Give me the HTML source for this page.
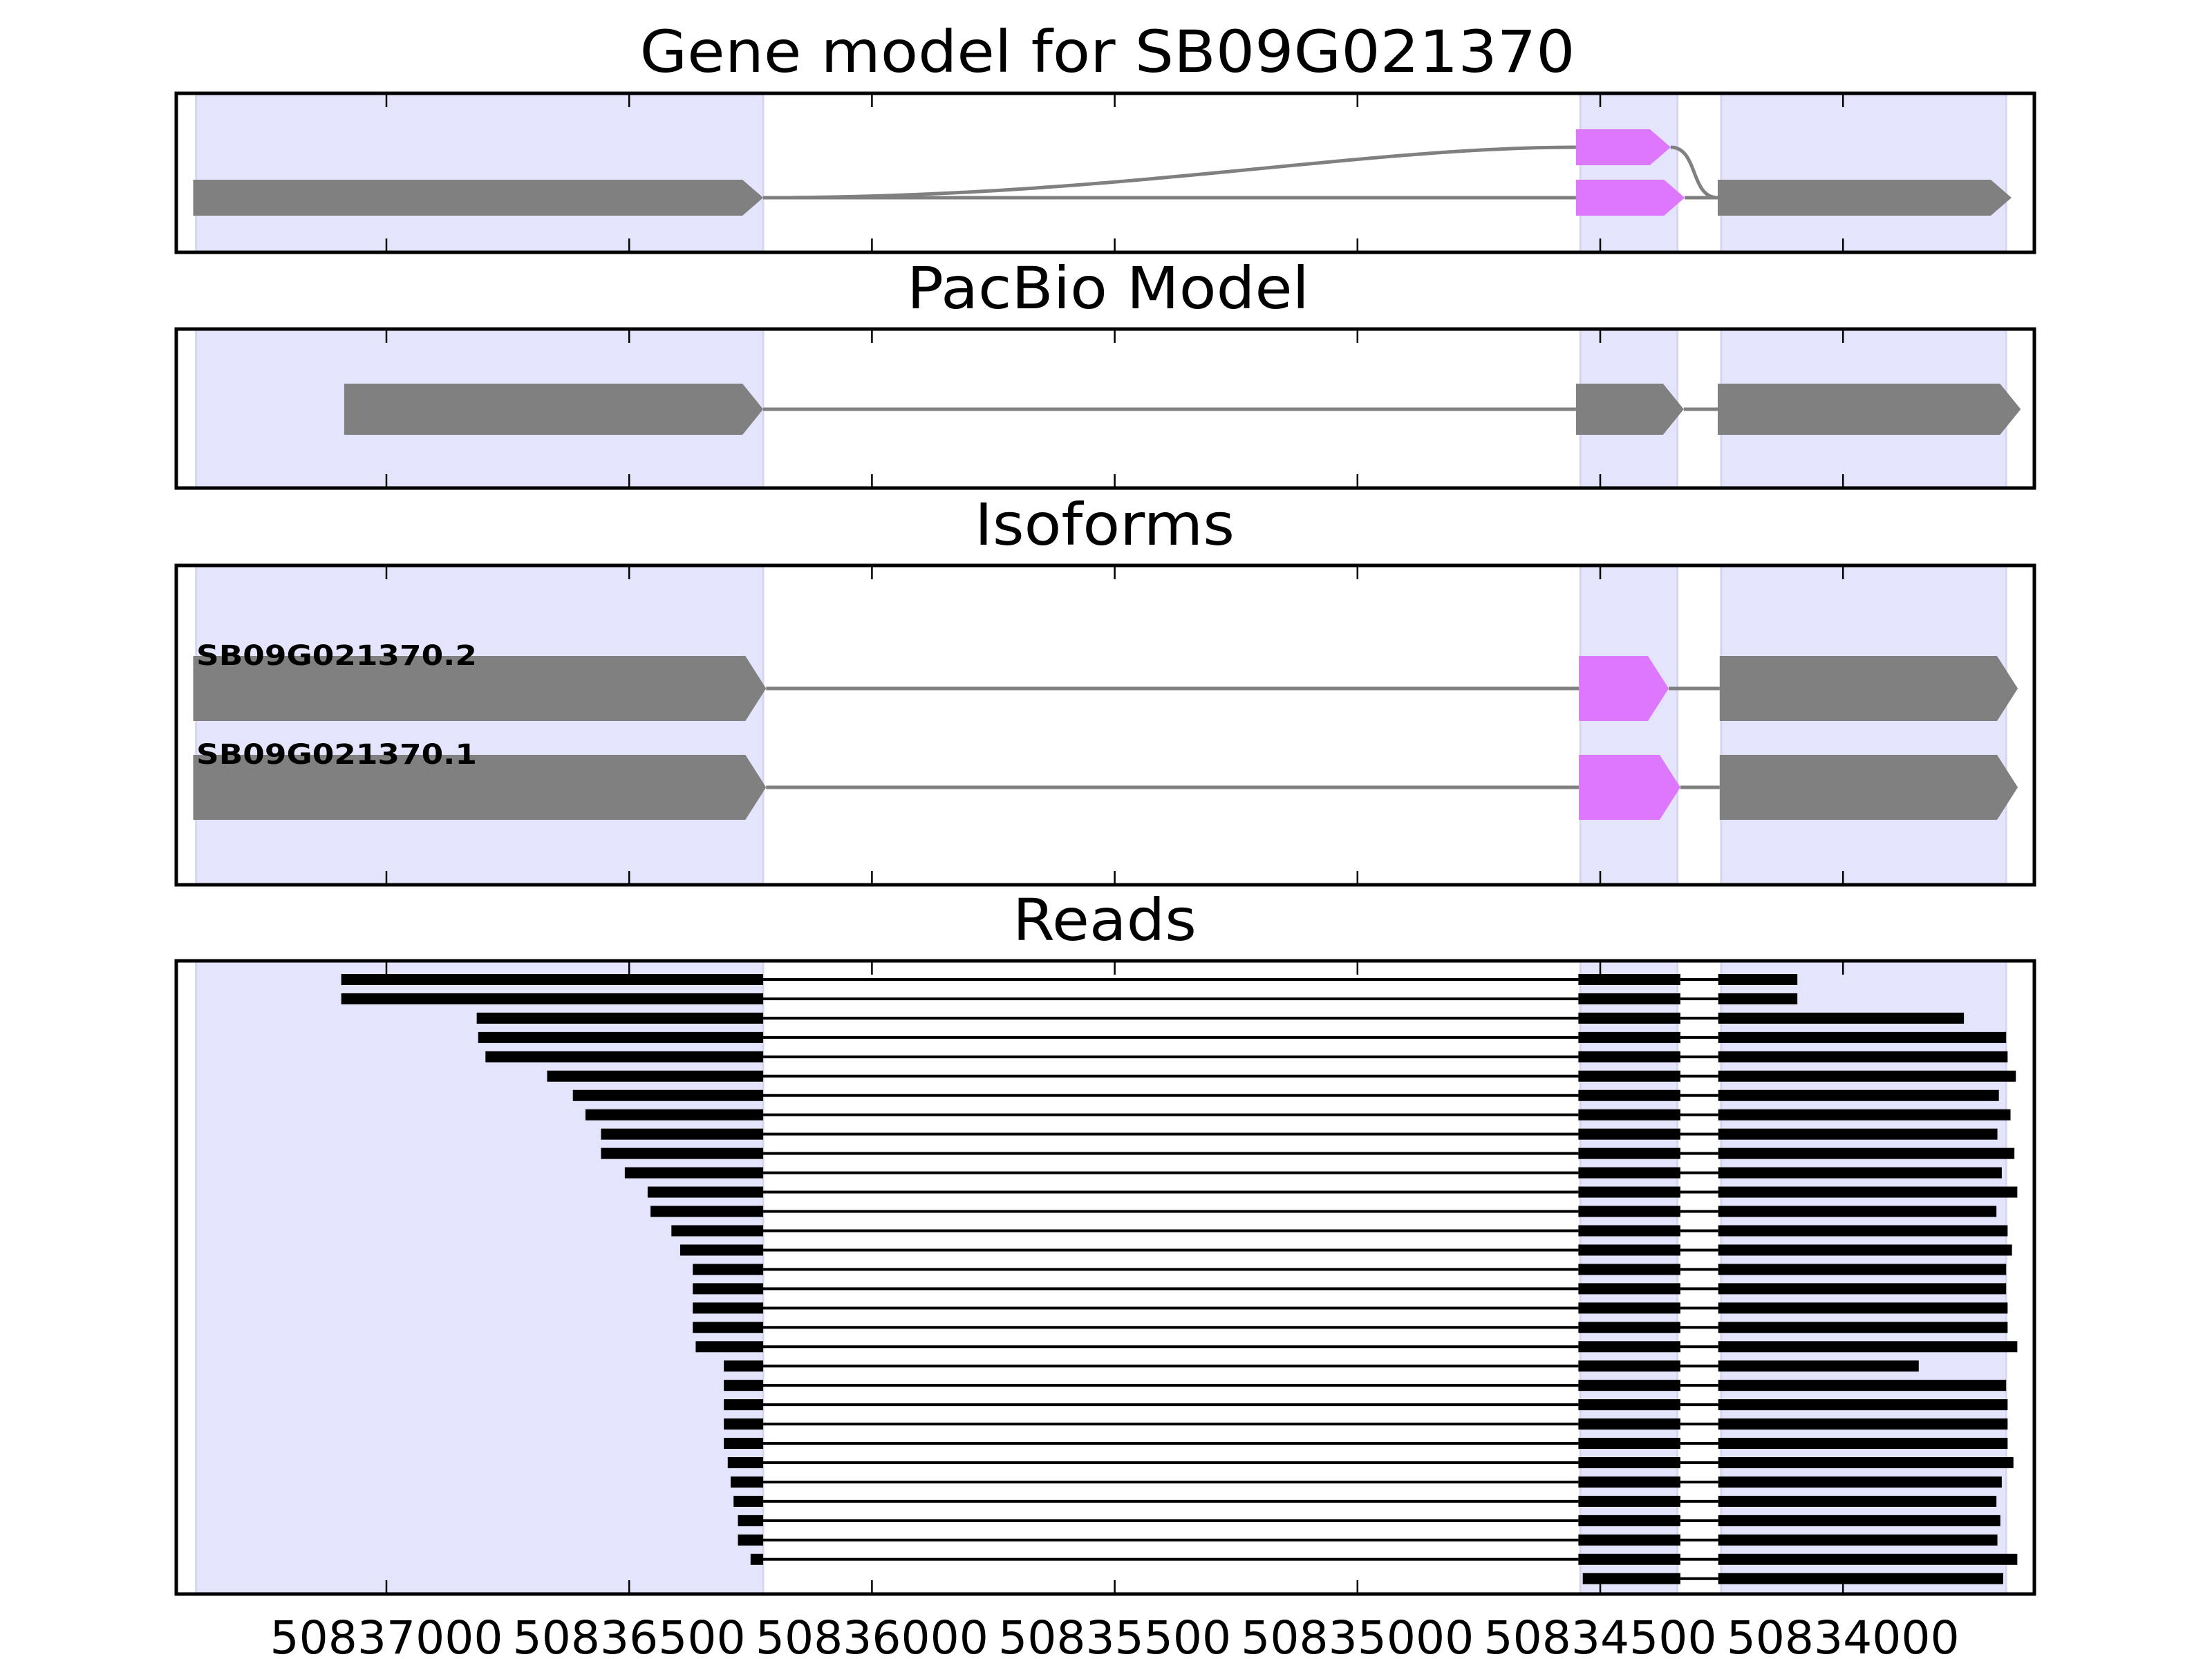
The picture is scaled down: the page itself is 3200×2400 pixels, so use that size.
<!DOCTYPE html>
<html><head><meta charset="utf-8"><style>html,body{margin:0;padding:0;background:#fff}svg{display:block}</style></head>
<body>
<svg id="fig" xmlns="http://www.w3.org/2000/svg" width="3200" height="2400" viewBox="0 0 3200 2400" font-family="DejaVu Sans, Liberation Sans, sans-serif">
<g id="shade"></g>
<g id="marks"></g>
<g id="frames"></g>
<text x="1602" y="104" font-size="84" text-anchor="middle" textLength="1353" lengthAdjust="spacingAndGlyphs">Gene model for SB09G021370</text>
<text x="1603" y="446" font-size="84" text-anchor="middle" textLength="582" lengthAdjust="spacingAndGlyphs">PacBio Model</text>
<text x="1598" y="788" font-size="84" text-anchor="middle" textLength="376" lengthAdjust="spacingAndGlyphs">Isoforms</text>
<text x="1598" y="1360" font-size="84" text-anchor="middle" textLength="266" lengthAdjust="spacingAndGlyphs">Reads</text>
<text x="284" y="962" font-size="40" font-weight="bold" textLength="406" lengthAdjust="spacingAndGlyphs">SB09G021370.2</text>
<text x="284" y="1105" font-size="40" font-weight="bold" textLength="406" lengthAdjust="spacingAndGlyphs">SB09G021370.1</text>
<g id="ticklabels"></g>
</svg>
<script>
const tickValues = [50837000,50836500,50836000,50835500,50835000,50834500,50834000];
const tickLabels = ["50837000","50836500","50836000","50835500","50835000","50834500","50834000"];
const shadeRegions = [[50837392,50836224],[50834541,50834341],[50834251,50833664]];
// gene model: [start,end,row,color]
const geneExons = [[50837398,50836224,1,"g"],[50834550,50834355,0,"p"],[50834550,50834326,1,"p"],[50834258,50833653,1,"g"]];
const pacbioExons = [[50837087,50836224,"g"],[50834550,50834328,"g"],[50834258,50833634,"g"]];
const iso2Exons = [[50837398,50836218,"g"],[50834544,50834359,"p"],[50834254,50833640,"g"]];
const iso1Exons = [[50837398,50836218,"g"],[50834544,50834335,"p"],[50834254,50833640,"g"]];
const readStarts = [50837093,50837093,50836814,50836811,50836796,50836669,50836616,50836590,50836558,50836558,50836509,50836462,50836456,50836413,50836395,50836369,50836369,50836369,50836369,50836363,50836305,50836305,50836305,50836305,50836305,50836297,50836291,50836285,50836276,50836276,50836250,50834536];
const readEnds = [50834094,50834094,50833751,50833664,50833661,50833644,50833679,50833655,50833682,50833647,50833673,50833641,50833684,50833661,50833652,50833664,50833664,50833661,50833661,50833641,50833844,50833664,50833661,50833661,50833661,50833649,50833673,50833684,50833676,50833682,50833641,50833670];
const exon1End = 50836224, exon2Start = 50834545, exon2End = 50834335, exon3Start = 50834257;

const NS="http://www.w3.org/2000/svg";
const X0=559, V0=50837000, K=351.2/500;
function sx(v){return X0+(V0-v)*K;}
const panels=[[135,365],[476,706],[818,1280],[1390,2306]];
const L=255,R=2943;
const GRAY="#808080",PINK="#dd77fb";
function mk(tag,attrs,parent){const e=document.createElementNS(NS,tag);for(const k in attrs)e.setAttribute(k,attrs[k]);document.getElementById(parent).appendChild(e);return e;}
function arrow(s,e,cy,h,col,name){
  const x1=sx(s),x2=sx(e),t=30;
  const p=`${x1},${cy-h/2} ${x2-t},${cy-h/2} ${x2},${cy} ${x2-t},${cy+h/2} ${x1},${cy+h/2}`;
  const el=mk('polygon',{points:p,fill:col},'marks');
  
  
}
function line(a,b,y,name,w,col){
  const el=mk('line',{x1:sx(a),x2:sx(b),y1:y,y2:y,stroke:col,'stroke-width':w},'marks');
  
  
}
// shading
panels.forEach((p,pi)=>{shadeRegions.forEach((r,ri)=>{
  const el=mk('rect',{x:sx(r[0]),y:p[0],width:sx(r[1])-sx(r[0]),height:p[1]-p[0],fill:"#e4e4fd",stroke:"#d6d6ee","stroke-width":3},'shade');
  
  
});});
// gene model
const gy=[213,286];
let c=mk('path',{d:`M${sx(exon1End)},286 C${sx(50835500)},286 ${sx(50835000)},213 ${sx(geneExons[1][0])},213`,fill:"none",stroke:GRAY,'stroke-width':5},'marks');


c=mk('path',{d:`M${sx(geneExons[1][1])},213 C${sx(geneExons[1][1])+40},213 ${sx(geneExons[3][0])-40},286 ${sx(geneExons[3][0])},286`,fill:"none",stroke:GRAY,'stroke-width':5},'marks');


line(exon1End,geneExons[2][0],286,'intron-line',5,GRAY);
line(geneExons[2][1],geneExons[3][0],286,'intron-line',5,GRAY);
geneExons.forEach(e=>arrow(e[0],e[1],gy[e[2]],52,e[3]=="p"?PINK:GRAY,'gene-exon'));
// pacbio
line(pacbioExons[0][1],pacbioExons[1][0],592,'intron-line',5,GRAY);
line(pacbioExons[1][1],pacbioExons[2][0],592,'intron-line',5,GRAY);
pacbioExons.forEach(e=>arrow(e[0],e[1],592,74,GRAY,'pacbio-exon'));
// isoforms
[[iso2Exons,996],[iso1Exons,1139]].forEach(([ex,y])=>{
  line(ex[0][1],ex[1][0],y,'intron-line',5,GRAY);
  line(ex[1][1],ex[2][0],y,'intron-line',5,GRAY);
  ex.forEach(e=>arrow(e[0],e[1],y,94,e[2]=="p"?PINK:GRAY,'isoform-exon'));
});
// reads
readStarts.forEach((s,i)=>{
  const y=1417+i*27.96, en=readEnds[i];
  function blk(a,b){const el=mk('rect',{x:sx(a),y:y-8,width:sx(b)-sx(a),height:16,fill:"#000"},'marks');
    
    }
  if(s>exon1End){blk(s,exon1End);line(exon1End,exon2Start,y,'read-gap',4,"#000");blk(exon2Start,exon2End);}
  else{blk(s,exon2End);}
  line(exon2End,exon3Start,y,'read-gap',4,"#000");
  blk(exon3Start,en);
});
// frames and ticks
panels.forEach(p=>{
  const f=mk('rect',{x:L,y:p[0],width:R-L,height:p[1]-p[0],fill:"none",stroke:"#000","stroke-width":5},'frames');
  
  
  tickValues.forEach(v=>{
    const t1=mk('line',{x1:sx(v),x2:sx(v),y1:p[0],y2:p[0]+20,stroke:"#000","stroke-width":2.5},'frames');
    
    
    const t2=mk('line',{x1:sx(v),x2:sx(v),y1:p[1]-20,y2:p[1],stroke:"#000","stroke-width":2.5},'frames');
    
    
  });
});
tickValues.forEach((v,i)=>{
  const t=mk('text',{x:sx(v),y:2392,'font-size':66,'text-anchor':'middle',textLength:337,lengthAdjust:'spacingAndGlyphs'},'ticklabels');
  
  
  t.textContent=tickLabels[i];
});
</script>
</body></html>
